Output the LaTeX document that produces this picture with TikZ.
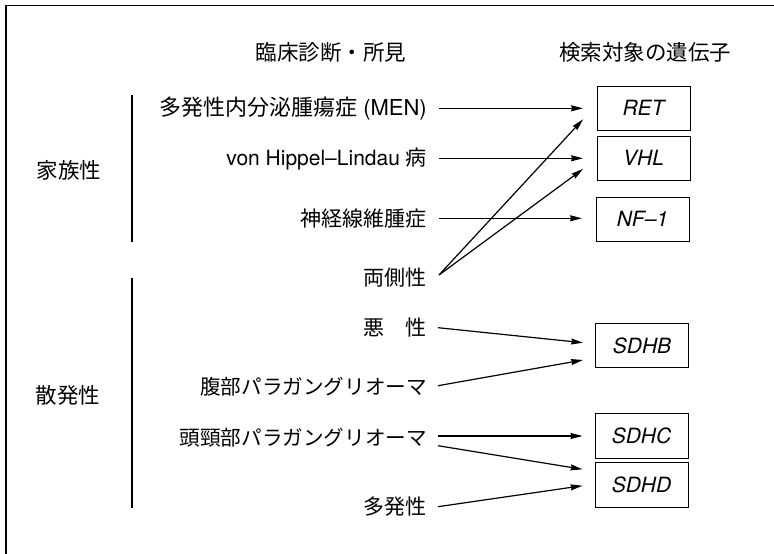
\documentclass[tikz,border=0pt]{standalone}
\usepackage{fontspec}
\setmainfont{TeX Gyre Heros}
\newfontfamily\jp{Noto Sans CJK JP}
\usetikzlibrary{arrows.meta,calc}
\tikzset{
  lab/.style={anchor=east,inner sep=0pt,font=\fontsize{21}{24}\selectfont},
  head/.style={inner sep=0pt,font=\fontsize{21.5}{24}\selectfont\jp},
  gene/.style={draw,line width=0.9pt,minimum width=93pt,minimum height=44.5pt,inner sep=0pt,font=\fontsize{21}{24}\selectfont\itshape},
  arr/.style={line width=1.2pt,-{Stealth[length=12pt,width=6pt,inset=1pt]}},
  bar/.style={line width=1.6pt},
  frame/.style={line width=1.4pt}
}
\begin{document}
\begin{tikzpicture}[x=1pt,y=-1pt]
\useasboundingbox (0,0) rectangle (774,554);
\draw[frame] (6,554) -- (6,5.5) -- (774,5.5);
% headers
\node[head] (h1) at (331,52) {臨床診断・所見};
\node[head] (h2) at (645,52) {検索対象の遺伝子};
% groups
\node[head] (fam) at (69,170) {家族性};
\node[head] (spo) at (68,395) {散発性};
\draw[bar] (132,95) -- (132,242);
\draw[bar] (132,278) -- (132,508);
% labels
\node[lab] (men) at (427,109) {\fontsize{22}{24}\selectfont\jp 多発性内分泌腫瘍症\rmfamily\kern6pt(MEN)};
\node[lab] (vhl) at (427,159) {von Hippel–Lindau {\jp 病}};
\node[lab] (nf) at (427,219) {\jp 神経線維腫症};
\node[lab] (bil) at (427,278) {\jp 両側性};
\node[lab] (mal) at (427,328) {\jp 悪\hspace{1em}性};
\node[lab] (abd) at (427,387) {\fontsize{20.6}{24}\selectfont\jp 腹部パラガングリオーマ};
\node[lab] (hn) at (427,438) {\fontsize{20.6}{24}\selectfont\jp 頭頸部パラガングリオーマ};
\node[lab] (mult) at (427,507) {\jp 多発性};
% gene boxes
\node[gene] (ret) at (643.5,108.3) {RET};
\node[gene] (vhlg) at (643.5,158.3) {VHL};
\node[gene] (nfg) at (642.5,219.2) {NF–1};
\node[gene] (sdhb) at (642,345.5) {SDHB};
\node[gene] (sdhc) at (641.5,436) {SDHC};
\node[gene] (sdhd) at (641.5,484.7) {SDHD};
% arrows
\draw[arr] ($(men.east)+(12,-0.7)$) -- ($(ret.west)+(-13.5,0)$);
\draw[arr] ($(vhl.east)+(12,-0.7)$) -- ($(vhlg.west)+(-13.5,0)$);
\draw[arr] ($(nf.east)+(12,-0.7)$) -- ($(nfg.west)+(-13.5,-0.9)$);
\draw[arr] ($(bil.east)+(12,-3)$) -- ($(ret.west)+(-13.5,11)$);
\draw[arr] ($(bil.east)+(12,-3)$) -- ($(vhlg.west)+(-13.5,10.7)$);
\draw[arr] ($(mal.east)+(11,-0.3)$) -- ($(sdhb.west)+(-12,-2.8)$);
\draw[arr] ($(abd.east)+(11,-1.3)$) -- ($(sdhb.west)+(-12,14.5)$);
\draw[arr] ($(hn.east)+(11,-2)$) -- ($(sdhc.west)+(-12,0)$);
\draw[arr] ($(hn.east)+(11,7.7)$) -- ($(sdhd.west)+(-12,-15.4)$);
\draw[arr] ($(mult.east)+(11,-0.3)$) -- ($(sdhd.west)+(-12,1)$);
\end{tikzpicture}
\end{document}
